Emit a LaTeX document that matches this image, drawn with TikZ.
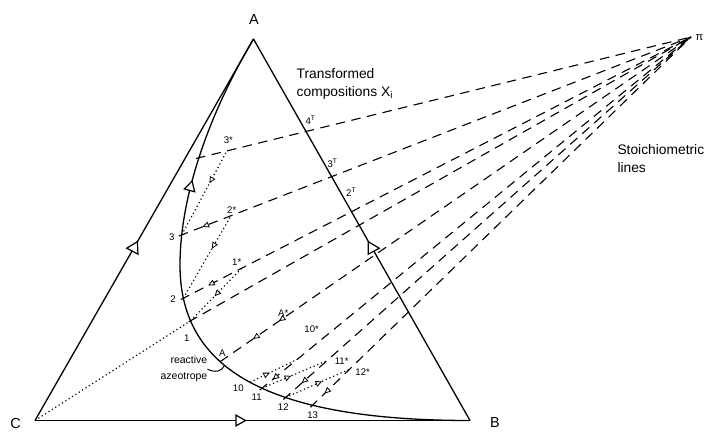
\documentclass[tikz,border=0pt]{standalone}
\usepackage{fontspec}
\setmainfont{Liberation Sans}
\usetikzlibrary{arrows.meta,decorations.markings,calc}
\tikzset{
  sTri/.tip={Triangle[length=6.5pt,width=6pt,fill=white,line width=0.8pt]},
  bigT/.tip={Triangle[length=11.5pt,width=12.5pt,fill=white,line width=1.2pt]},
  edge/.style={line width=1.3pt, line join=miter},
  rcurve/.style={line width=1.3pt},
  stoich/.style={line width=1.1pt, dash pattern=on 9.5pt off 6.5pt},
  tie/.style={line width=1.15pt, dash pattern=on 1.2pt off 2.8pt},
  bigtri/.style={line width=1.2pt, fill=white, line join=miter},
  bracket/.style={line width=1pt},
  lbl/.style={font=\fontsize{9.6}{11}\selectfont, inner sep=0pt},
  vlbl/.style={font=\fontsize{14.5}{16}\selectfont, inner sep=0pt},
  txt/.style={font=\fontsize{13.8}{18.2}\selectfont, inner sep=0pt, align=left},
  tipf/.style={postaction={decorate, decoration={markings, mark=at position #1 with {\pgfsetdash{}{0pt}\arrow{sTri}}}}},
  tipb/.style={postaction={decorate, decoration={markings, mark=at position #1 with {\pgfsetdash{}{0pt}\arrowreversed{sTri}}}}},
}
\begin{document}
\begin{tikzpicture}[x=1pt,y=-1pt]
\fill[white] (0,0) rectangle (704,431);
\useasboundingbox (0,0) rectangle (704,431);

% vertices
\coordinate (A) at (253.5,39);
\coordinate (B) at (470,420.5);
\coordinate (C) at (35,420.5);
\coordinate (pi) at (691,37);
\coordinate (J) at (180,265);

% triangle edges
\draw[edge] (C) -- (A);
\draw[edge] (A) -- (B);
\draw[edge, postaction={decorate, decoration={markings, mark=at position 0.487 with {\arrow{bigT}}}}] (C) -- (B);

\coordinate (mAC) at ($(C)!0.4522!(A)$);
\coordinate (mAB) at ($(A)!0.548!(B)$);
\draw[bigtri] ($(mAC)+(3.6,-6.3)$) -- ($(mAC)+(4.2,6.2)$) -- ($(mAC)+(-7.1,0.2)$) -- cycle;
\draw[bigtri] ($(mAB)+(-3.8,-6.3)$) -- ($(mAB)+(-3.8,6.0)$) -- ($(mAB)+(7.2,0.2)$) -- cycle;

% reactive distillation line
\draw[rcurve, postaction={decorate, decoration={markings, mark=at position 154pt with {\arrowreversed{bigT}}}}]
  (A) .. controls (210,112) and (180,195) .. (J)
  coordinate[pos=0.52] (p4) coordinate[pos=0.86] (p3)
  .. controls (180,362) and (255,420.5) .. (B)
  coordinate[pos=0.12] (p2) coordinate[pos=0.21] (p1)
  coordinate[pos=0.40] (pA) coordinate[pos=0.42] (rz)
  coordinate[pos=0.52] (p10) coordinate[pos=0.56] (p11)
  coordinate[pos=0.63] (p12) coordinate[pos=0.70] (p13);

% equilibrium points
\coordinate (s3) at ($(p4)!0.057!(pi)$);
\coordinate (s2) at ($(p3)!0.0968!(pi)$);
\coordinate (s1) at ($(p2)!0.115!(pi)$);
\coordinate (s10) at ($(p11)!0.082!(pi)$);
\coordinate (s11) at ($(p12)!0.102!(pi)$);
\coordinate (s12) at ($(p13)!0.098!(pi)$);

% stoichiometric lines
\draw[stoich] ($(p4)!-3pt!(pi)$) -- (pi);
\draw[stoich, tipb=0.046] ($(p3)!-3pt!(pi)$) -- (pi);
\draw[stoich, tipb=0.054] ($(p2)!-3pt!(pi)$) -- (pi);
\draw[stoich] ($(p1)!-2pt!(pi)$) -- (pi);
\draw[stoich, tipb=0.070, tipb=0.125] (pA) -- (pi);
\draw[stoich, tipb=0.030] ($(p11)!-3pt!(pi)$) -- (pi);
\draw[stoich, tipb=0.045] ($(p12)!-3pt!(pi)$) -- (pi);
\draw[stoich, tipb=0.037] ($(p13)!-3pt!(pi)$) -- (pi);

% tie lines
\draw[tie] (C) -- (p1);
\draw[tie, tipb=0.47] (p1) -- (s1);
\draw[tie, tipb=0.60] (p2) -- (s2);
\draw[tie, tipb=0.615] (p3) -- (s3);
\draw[tie, tipf=0.42] (p10) -- (s10);
\draw[tie, tipf=0.45] (p11) -- (s11);
\draw[tie, tipf=0.57] (p12) -- (s12);

% vertex labels
\node[vlbl, anchor=base] (lA) at (254,24) {A};
\node[vlbl, anchor=base] (lB) at (495,427.3) {B};
\node[vlbl, anchor=base] (lC) at (15.5,428.8) {C};
\node[lbl, font=\fontsize{11}{12}\selectfont, anchor=base west] (lpi) at (695.5,40.5) {π};

% point labels
\node[lbl, anchor=base] (l1) at (186.7,341.8) {1};
\node[lbl, anchor=base] (l2) at (173,302) {2};
\node[lbl, anchor=base] (l3) at (171.7,240.2) {3};
\node[lbl, anchor=base] (l10) at (238.3,391.8) {10};
\node[lbl, anchor=base] (l11) at (256.7,400.8) {11};
\node[lbl, anchor=base] (l12) at (283.3,410.8) {12};
\node[lbl, anchor=base] (l13) at (312.7,418.5) {13};
\node[lbl, anchor=base] (ls3) at (228.3,143.5) {3*};
\node[lbl, anchor=base] (ls2) at (231.7,213.5) {2*};
\node[lbl, anchor=base] (ls1) at (236.7,265.2) {1*};
\node[lbl, anchor=base] (lsA) at (283.3,316.2) {A*};
\node[lbl, anchor=base] (ls10) at (311.7,332.8) {10*};
\node[lbl, anchor=base] (ls11) at (341.7,364.2) {11*};
\node[lbl, anchor=base] (ls12) at (362.7,375.2) {12*};
\node[lbl, anchor=base] (lAz) at (222.3,356.2) {A};
\node[lbl, anchor=base west] (t4) at (305.3,124) {4\textsuperscript{T}};
\node[lbl, anchor=base west] (t3) at (327.3,167.5) {3\textsuperscript{T}};
\node[lbl, anchor=base west] (t2) at (346,196.2) {2\textsuperscript{T}};

% texts
\node[txt, anchor=north west] (tc) at (296.5,68.4) {Transformed\\compositions X\textsubscript{i}};
\node[txt, anchor=north west] (sl) at (617.3,143.9) {Stoichiometric\\lines};
\node[font=\fontsize{10.5}{16}\selectfont, inner sep=0pt, align=right, anchor=north east] (raz) at (207.5,356) {reactive\\azeotrope};
\draw[bracket] (raz.east) .. controls +(7,4) and +(-2,6) .. (rz);
\end{tikzpicture}
\end{document}
